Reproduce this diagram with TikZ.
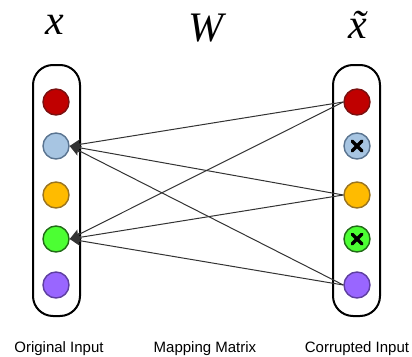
\documentclass[tikz,border=0pt]{standalone}
\usepackage{fontspec}
\setmainfont{Liberation Sans}
\newfontfamily\timesfont{Liberation Serif}
\usetikzlibrary{arrows.meta}

\definecolor{redfill}{HTML}{C00000}
\definecolor{redline}{HTML}{7A1010}
\definecolor{bluefill}{HTML}{A7C5E2}
\definecolor{blueline}{HTML}{5A7490}
\definecolor{orangefill}{HTML}{FFBB00}
\definecolor{orangeline}{HTML}{9A7420}
\definecolor{greenfill}{HTML}{4CFF33}
\definecolor{greenline}{HTML}{226A18}
\definecolor{purplefill}{HTML}{9966FF}
\definecolor{purpleline}{HTML}{5E3FA0}

\tikzset{
  unit/.style={circle, minimum size=26pt, inner sep=0pt, line width=1.4pt},
  redunit/.style={unit, fill=redfill, draw=redline},
  blueunit/.style={unit, fill=bluefill, draw=blueline},
  orangeunit/.style={unit, fill=orangefill, draw=orangeline},
  greenunit/.style={unit, fill=greenfill, draw=greenline},
  purpleunit/.style={unit, fill=purplefill, draw=purpleline},
  cross/.style={draw=black, line width=3.4pt, line cap=round},
  layer/.style={line width=2pt, rounded corners=20pt},
  weight/.style={draw=black!80, line width=1pt, -{Stealth[length=11pt,width=10pt,inset=2pt]}},
  caption/.style={font=\fontsize{15}{15}\selectfont, anchor=base},
  symbol/.style={font=\timesfont\itshape\fontsize{42}{42}\selectfont}
}

\begin{document}
\begin{tikzpicture}[x=1pt, y=-1pt]
  \useasboundingbox (0,0) rectangle (412,356);
  % headers
  \node[symbol] (hx) at (55,25) {x};
  \node[symbol] (hw) at (206,28) {W};
  \node[symbol] (hxt) at (358,25) {\~{x}};
  % layers
  \draw[layer] (33,65) rectangle (80,316);
  \draw[layer] (333,65) rectangle (380,316);
  \draw
    (56,102) node[redunit] (l1){}
    (56,146) node[blueunit] (l2){}
    (56,195) node[orangeunit] (l3){}
    (56,239) node[greenunit] (l4){}
    (56,285) node[purpleunit] (l5){};
  \draw
    (357,102) node[redunit] (r1){}
    (357,146) node[blueunit] (r2){}
    (357,195) node[orangeunit] (r3){}
    (357,239) node[greenunit] (r4){}
    (357,285) node[purpleunit] (r5){};
  % dropped units
  \foreach \u in {r2,r4} {
    \draw[cross] ([shift={(-4.8,-4.8)}]\u.center) -- ([shift={(4.8,4.8)}]\u.center);
    \draw[cross] ([shift={(-4.8,4.8)}]\u.center) -- ([shift={(4.8,-4.8)}]\u.center);
  }
  % mapping
  \begin{scope}[weight]
    \draw (r1.west) to (l2.east);
    \draw (r3.west) to (l2.east);
    \draw (r5.west) to (l2.east);
    \draw (r1.west) to (l4.east);
    \draw (r3.west) to (l4.east);
    \draw (r5.west) to (l4.east);
  \end{scope}
  % captions
  \node[caption] (corig) at (59,352) {Original Input};
  \node[caption] (cmap) at (205,352) {Mapping Matrix};
  \node[caption] (ccorr) at (357,352) {Corrupted Input};
\end{tikzpicture}
\end{document}
